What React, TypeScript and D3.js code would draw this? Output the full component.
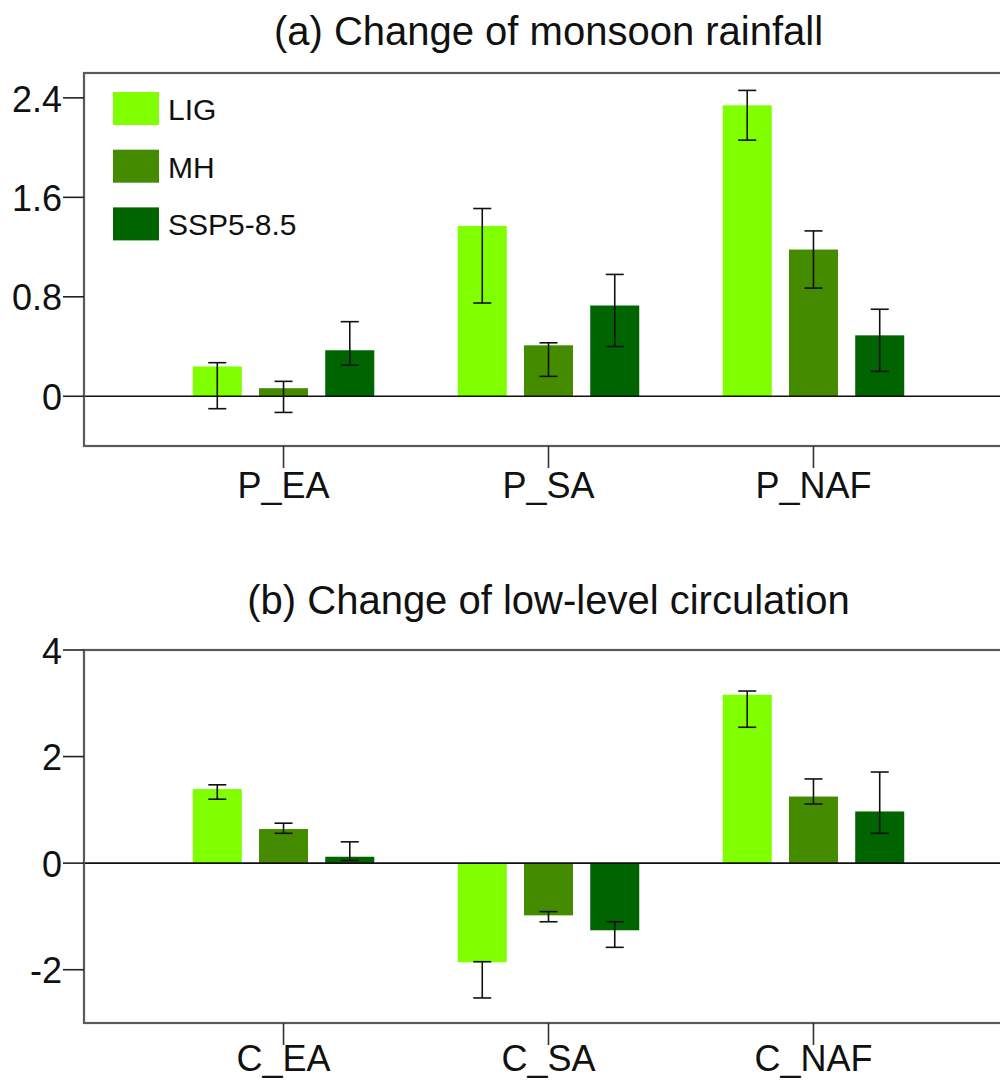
import React from 'react'
import * as d3 from 'd3'

const width = 1000
const height = 1080
const font = 'Liberation Sans, Arial, Helvetica, sans-serif'

const series = ['LIG', 'MH', 'SSP5-8.5']
const colors = ['#7fff00', '#458b00', '#006400']

// (a) monsoon rainfall
const rainCats = ['P_EA', 'P_SA', 'P_NAF']
const rainLIG = [0.24, 1.37, 2.34]
const rainMH = [0.065, 0.41, 1.18]
const rainSSP = [0.37, 0.73, 0.49]
const rainLowLIG = [-0.1, 0.75, 2.06]
const rainHighLIG = [0.27, 1.51, 2.46]
const rainLowMH = [-0.13, 0.16, 0.87]
const rainHighMH = [0.12, 0.43, 1.33]
const rainLowSSP = [0.25, 0.4, 0.2]
const rainHighSSP = [0.6, 0.98, 0.7]
const rainTicks = [0, 0.8, 1.6, 2.4]

// (b) low-level circulation
const circCats = ['C_EA', 'C_SA', 'C_NAF']
const circLIG = [1.39, -1.86, 3.16]
const circMH = [0.64, -0.98, 1.25]
const circSSP = [0.12, -1.26, 0.97]
const circLowLIG = [1.2, -2.53, 2.55]
const circHighLIG = [1.47, -1.85, 3.23]
const circLowMH = [0.56, -1.1, 1.11]
const circHighMH = [0.75, -0.91, 1.58]
const circLowSSP = [0.05, -1.58, 0.56]
const circHighSSP = [0.4, -1.1, 1.71]
const circTicks = [-2, 0, 2, 4]

const boxLeft = 84
const boxRight = 1013

const Panel = ({ title, titleY, top, bottom, domain, ticks, cats, values, lows, highs, labelGap, legend }) => {
    const x0 = d3
        .scaleBand()
        .domain(cats)
        .range([boxLeft, boxRight])
        .paddingInner(0.25)
        .paddingOuter(0.378)
    const x1 = d3
        .scaleBand()
        .domain(series)
        .range([0, x0.bandwidth()])
        .paddingInner(0.26)
        .paddingOuter(0.13)
    const y = d3.scaleLinear().domain(domain).range([bottom, top])
    const cap = 9

    return (
        <g>
            <text
                x={(boxLeft + boxRight) / 2}
                y={titleY}
                textAnchor="middle"
                fontSize={40}
                fontFamily={font}
                fill="#111"
            >
                {title}
            </text>
            {/* bars */}
            {series.map((s, si) =>
                cats.map((c, ci) => {
                    const v = values[si][ci]
                    return (
                        <rect
                            key={s + c}
                            x={x0(c) + x1(s)}
                            y={y(Math.max(0, v))}
                            width={x1.bandwidth()}
                            height={Math.abs(y(v) - y(0))}
                            fill={colors[si]}
                        />
                    )
                })
            )}
            {/* zero line */}
            <line x1={boxLeft} x2={width} y1={y(0)} y2={y(0)} stroke="#111" strokeWidth={1.6} />
            {/* error bars */}
            {series.map((s, si) =>
                cats.map((c, ci) => {
                    const cx = x0(c) + x1(s) + x1.bandwidth() / 2
                    const lo = y(lows[si][ci])
                    const hi = y(highs[si][ci])
                    return (
                        <g key={'e' + s + c} stroke="#111" strokeWidth={1.6}>
                            <line x1={cx} x2={cx} y1={lo} y2={hi} />
                            <line x1={cx - cap} x2={cx + cap} y1={lo} y2={lo} />
                            <line x1={cx - cap} x2={cx + cap} y1={hi} y2={hi} />
                        </g>
                    )
                })
            )}
            {/* frame */}
            <rect
                x={boxLeft}
                y={top}
                width={boxRight - boxLeft}
                height={bottom - top}
                fill="none"
                stroke="#5a5a5a"
                strokeWidth={2.2}
            />
            {/* y axis */}
            {ticks.map((t) => (
                <g key={'y' + t}>
                    <line x1={boxLeft - 21} x2={boxLeft} y1={y(t)} y2={y(t)} stroke="#222" strokeWidth={1.6} />
                    <text
                        x={boxLeft - 22}
                        y={y(t)}
                        dy="0.38em"
                        textAnchor="end"
                        fontSize={36}
                        fontFamily={font}
                        fill="#111"
                    >
                        {String(t)}
                    </text>
                </g>
            ))}
            {/* x axis */}
            {cats.map((c) => {
                const cx = x0(c) + x0.bandwidth() / 2
                return (
                    <g key={'x' + c}>
                        <line x1={cx} x2={cx} y1={bottom} y2={bottom + 22} stroke="#333" strokeWidth={1.6} />
                        <text
                            x={cx}
                            y={bottom + labelGap}
                            textAnchor="middle"
                            fontSize={36}
                            fontFamily={font}
                            fill="#111"
                        >
                            {c}
                        </text>
                    </g>
                )
            })}
            {legend &&
                series.map((s, si) => (
                    <g key={'l' + s}>
                        <rect x={113} y={92 + si * 57.7} width={46} height={33} fill={colors[si]} />
                        <text x={168} y={120 + si * 57.7} fontSize={30} fontFamily={font} fill="#111">
                            {s}
                        </text>
                    </g>
                ))}
        </g>
    )
}

const App = () => (
    <svg
        width={width}
        height={height}
        style={{ position: 'absolute', left: 0, top: 0, background: '#fff' }}
    >
        <Panel
            title="(a) Change of monsoon rainfall"
            titleY={45}
            top={73}
            bottom={446}
            domain={[-0.4, 2.6]}
            ticks={rainTicks}
            cats={rainCats}
            values={[rainLIG, rainMH, rainSSP]}
            lows={[rainLowLIG, rainLowMH, rainLowSSP]}
            highs={[rainHighLIG, rainHighMH, rainHighSSP]}
            labelGap={52}
            legend
        />
        <Panel
            title="(b) Change of low-level circulation"
            titleY={614}
            top={650}
            bottom={1023}
            domain={[-3, 4]}
            ticks={circTicks}
            cats={circCats}
            values={[circLIG, circMH, circSSP]}
            lows={[circLowLIG, circLowMH, circLowSSP]}
            highs={[circHighLIG, circHighMH, circHighSSP]}
            labelGap={48}
            legend={false}
        />
    </svg>
)

export default App
